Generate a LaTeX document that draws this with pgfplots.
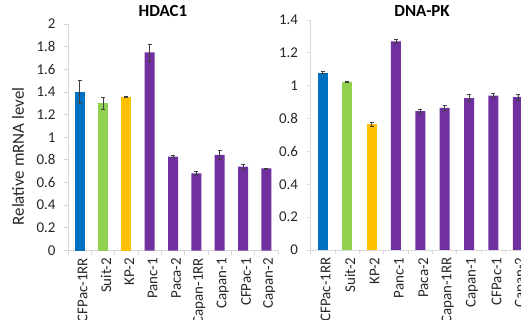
\documentclass[border=0pt]{standalone}
\usepackage{pgfplots}
\pgfplotsset{compat=1.18}
\usepackage{fontspec}
\setmainfont{Carlito}

\definecolor{barblue}{HTML}{0070C0}
\definecolor{bargreen}{HTML}{92D050}
\definecolor{barorange}{HTML}{FFC000}
\definecolor{barpurple}{HTML}{7030A0}
\definecolor{axisgray}{HTML}{D9D9D9}
\definecolor{errgray}{HTML}{404040}

\pgfplotsset{
  panel/.style={
    scale only axis,
    ybar, bar width=10bp, bar shift=0pt,
    xmin=-0.5, xmax=8.5, ymin=0,
    axis x line*=bottom, axis y line*=left,
    axis line style={axisgray, line width=0.8bp},
    tick style={axisgray, line width=0.8bp},
    major tick length=4bp, tick align=outside,
    xtick={-0.5,0.5,...,8.5},
    x tick label as interval,
    xticklabels={CFPac-1RR,Suit-2,KP-2,Panc-1,Paca-2,Capan-1RR,Capan-1,CFPac-1,Capan-2},
    x tick label style={rotate=90, anchor=east, yshift=-3bp,
      font=\fontsize{15}{18}\selectfont, text=black!85},
    y tick label style={xshift=-5bp,
      font=\fontsize{15}{18}\selectfont, text=black!85},
    /pgf/number format/assume math mode=true,
    yticklabel style={/pgf/number format/fixed},
    title style={font=\fontsize{17}{20}\selectfont\bfseries, anchor=center},
    every axis plot/.append style={draw=none},
    error bars/error bar style={errgray, line width=0.6bp},
    error bars/error mark options={rotate=90, mark size=2bp, errgray, line width=0.6bp},
  },
}

\begin{document}
\begin{tikzpicture}
\useasboundingbox (0bp,0bp) rectangle (521bp,320bp);
\clip (0bp,0bp) rectangle (521bp,320bp);

% HDAC1 expression
\begin{axis}[panel,
  at={(68bp,69.5bp)}, anchor=south west,
  width=210bp, height=226.5bp,
  ymax=2, ytick={0,0.2,...,2.01},
  title={HDAC1}, title style={at={(axis description cs:0.452,1.031)}},
  ylabel={Relative mRNA level},
  ylabel style={at={(axis description cs:-0.238,0.415)}, anchor=center,
    font=\fontsize{17}{20}\selectfont, text=black!85},
]
\addplot+[fill=barblue, error bars/.cd, y dir=both, y explicit]
  coordinates {(0,1.40) +- (0,0.10)};
\addplot+[fill=bargreen, error bars/.cd, y dir=both, y explicit]
  coordinates {(1,1.30) +- (0,0.05)};
\addplot+[fill=barorange, error bars/.cd, y dir=both, y explicit]
  coordinates {(2,1.355) +- (0,0.006)};
\addplot+[fill=barpurple, error bars/.cd, y dir=both, y explicit]
  coordinates {
    (3,1.75) +- (0,0.075)
    (4,0.83) +- (0,0.01)
    (5,0.68) +- (0,0.02)
    (6,0.845) +- (0,0.04)
    (7,0.74) +- (0,0.02)
    (8,0.725) +- (0,0.004)
  };
\end{axis}

% DNA-PK expression
\begin{axis}[panel,
  at={(310.5bp,70bp)}, anchor=south west,
  width=219.6bp, height=230bp,
  ymax=1.4, ytick={0,0.2,...,1.41},
  title={DNA-PK}, title style={at={(axis description cs:0.508,1.013)}},
]
\addplot+[fill=barblue, error bars/.cd, y dir=both, y explicit]
  coordinates {(0,1.08) +- (0,0.006)};
\addplot+[fill=bargreen, error bars/.cd, y dir=both, y explicit]
  coordinates {(1,1.025) +- (0,0.003)};
\addplot+[fill=barorange, error bars/.cd, y dir=both, y explicit]
  coordinates {(2,0.765) +- (0,0.01)};
\addplot+[fill=barpurple, error bars/.cd, y dir=both, y explicit]
  coordinates {
    (3,1.27) +- (0,0.01)
    (4,0.845) +- (0,0.012)
    (5,0.865) +- (0,0.016)
    (6,0.925) +- (0,0.02)
    (7,0.94) +- (0,0.012)
    (8,0.93) +- (0,0.016)
  };
\end{axis}
\end{tikzpicture}
\end{document}
